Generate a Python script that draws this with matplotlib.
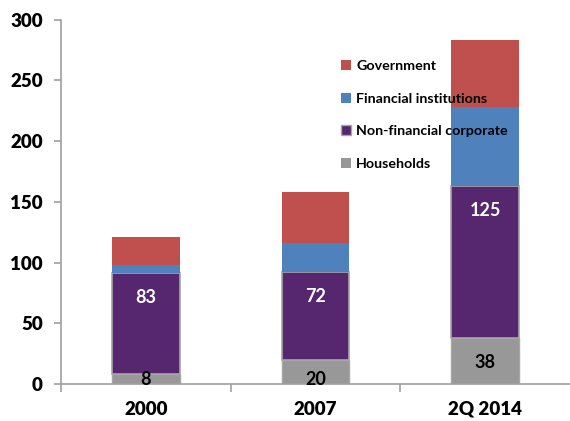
import numpy as np
import matplotlib
matplotlib.use('Agg')
import matplotlib.pyplot as plt
from matplotlib.lines import Line2D

plt.rcParams['font.family'] = ['Lato', 'DejaVu Sans']

# 数据
categories = ['2000', '2007', '2Q 2014']
households = [8, 20, 38]
non_financial = [83, 72, 125]
financial = [7, 24, 65]
government = [23, 42, 55]

c_house = '#989898'
c_nonfin = '#56266E'
c_fin = '#4F81BD'
c_gov = '#C0504D'
c_edge = '#A6A6A6'

fig = plt.figure(figsize=(5.70, 4.21), dpi=100)
ax = fig.add_axes([0.107, 0.088, 0.893, 0.865])

x = np.arange(len(categories))
w = 0.4
h = np.array(households)
n = np.array(non_financial)
f = np.array(financial)
g = np.array(government)

ax.bar(x, h, w, color=c_house, edgecolor=c_edge, linewidth=1, zorder=2)
ax.bar(x, n, w, bottom=h, color=c_nonfin, edgecolor=c_edge, linewidth=1.2, zorder=2)
ax.bar(x, f, w, bottom=h + n, color=c_fin, linewidth=0, zorder=2)
ax.bar(x, g, w, bottom=h + n + f, color=c_gov, linewidth=0, zorder=2)

# 数据标签
for i in range(len(categories)):
    ax.text(x[i], max(h[i] - 20, 4), str(h[i]), ha='center', va='center',
            fontsize=13, fontweight='bold', color='black', zorder=3)
    ax.text(x[i], h[i] + n[i] - 20, str(n[i]), ha='center', va='center',
            fontsize=13, fontweight='bold', color='white', zorder=3)

ax.set_xlim(-0.5, 2.5)
ax.set_ylim(0, 300)
ax.set_yticks(range(0, 301, 50))
ax.set_xticks(x)
ax.set_xticklabels(categories)
ax.set_xticks([-0.5, 0.5, 1.5], minor=True)

for s in ['top', 'right']:
    ax.spines[s].set_visible(False)
for s in ['left', 'bottom']:
    ax.spines[s].set_color('#A0A0A0')
    ax.spines[s].set_linewidth(1.2)

ax.tick_params(axis='y', length=5, color='#A0A0A0', width=1.2, labelsize=13.5, pad=8)
ax.tick_params(axis='x', which='major', length=0, labelsize=13.5, pad=12)
ax.tick_params(axis='x', which='minor', length=6, color='#A0A0A0', width=1.2)
for lab in ax.get_xticklabels() + ax.get_yticklabels():
    lab.set_fontweight('heavy')

legend_elements = [
    Line2D([0], [0], marker='s', color='w', markerfacecolor=c_gov, markeredgewidth=0, markersize=7, label='Government'),
    Line2D([0], [0], marker='s', color='w', markerfacecolor=c_fin, markeredgewidth=0, markersize=7, label='Financial institutions'),
    Line2D([0], [0], marker='s', color='w', markerfacecolor=c_nonfin, markeredgecolor=c_edge, markeredgewidth=1, markersize=7, label='Non-financial corporate'),
    Line2D([0], [0], marker='s', color='w', markerfacecolor=c_house, markeredgewidth=0, markersize=7, label='Households'),
]
leg = ax.legend(handles=legend_elements, loc='upper left', bbox_to_anchor=(0.585, 0.875),
                bbox_transform=fig.transFigure, frameon=False, fontsize=10.3,
                handlelength=0.7, handletextpad=0.4, labelspacing=1.45, borderpad=0)
for t in leg.get_texts():
    t.set_fontweight('bold')

fig.savefig('out.png', dpi=100)
